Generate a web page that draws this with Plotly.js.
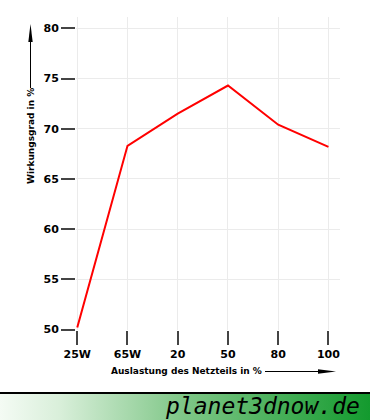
<!DOCTYPE html>
<html>
<head>
<meta charset="utf-8">
<script src="https://cdn.plot.ly/plotly-3.0.1.min.js"></script>
<style>
html,body{margin:0;padding:0;background:#fff;}
#chart{width:370px;height:420px;}
</style>
</head>
<body>
<div id="chart"></div>
<script>
// ---- data ----
const categories = ["25W", "65W", "20", "50", "80", "100"];
const efficiency = [50.2, 68.3, 71.5, 74.3, 70.4, 68.2];
const yTicks = [50, 55, 60, 65, 70, 75, 80];
const xTitle = "Auslastung des Netzteils in %";
const yTitle = "Wirkungsgrad in %";
const brand = "planet3dnow.de";

// ---- layout geometry ----
const W = 370, H = 420;
const M = {l: 76, r: 30, t: 17, b: 90};
const PW = W - M.l - M.r, PH = H - M.t - M.b;
const px = x => (x - M.l) / PW;           // pixel -> paper x
const py = y => (H - M.b - y) / PH;       // pixel -> paper y

const fontFam = "DejaVu Sans, Verdana, sans-serif";

function tri(tipX, tipY, baseX1, baseY1, baseX2, baseY2) {
  return `M ${px(tipX)} ${py(tipY)} L ${px(baseX1)} ${py(baseY1)} L ${px(baseX2)} ${py(baseY2)} Z`;
}

const gradSvg = '<svg xmlns="http://www.w3.org/2000/svg" width="370" height="26" preserveAspectRatio="none">' +
  '<defs><linearGradient id="g" x1="0" y1="0" x2="1" y2="0">' +
  '<stop offset="0" stop-color="#f4fbf4"/><stop offset="0.16" stop-color="#d9efda"/>' +
  '<stop offset="0.49" stop-color="#80c788"/>' +
  '<stop offset="1" stop-color="#139a2e"/></linearGradient></defs>' +
  '<rect width="370" height="26" fill="url(#g)"/></svg>';
const gradSrc = 'data:image/svg+xml;base64,' + btoa(gradSvg);

const trace = {
  type: 'scatter',
  mode: 'lines',
  x: categories,
  y: efficiency,
  line: {color: '#ff0000', width: 2},
  hoverinfo: 'x+y'
};

const layout = {
  width: W, height: H,
  margin: M,
  paper_bgcolor: '#ffffff',
  plot_bgcolor: '#ffffff',
  showlegend: false,
  font: {family: fontFam, size: 11, color: '#000'},
  xaxis: {
    type: 'category',
    range: [-0.025, 5.23],
    showgrid: true, gridcolor: '#ebebeb', gridwidth: 1,
    zeroline: false, showline: false,
    ticks: 'outside', ticklen: 14, tickwidth: 2, tickcolor: '#444',
    tickfont: {family: fontFam, size: 11, color: '#000', weight: 'bold'},
    fixedrange: true
  },
  yaxis: {
    range: [49.95, 81.13],
    tickvals: yTicks,
    ticktext: yTicks.map(String),
    showgrid: true, gridcolor: '#ebebeb', gridwidth: 1,
    zeroline: false, showline: false,
    ticks: 'outside', ticklen: 14, tickwidth: 2, tickcolor: '#444',
    tickfont: {family: fontFam, size: 11, color: '#000', weight: 'bold'},
    fixedrange: true
  },
  annotations: [
    {xref: 'paper', yref: 'paper', x: px(31), y: py(136), text: yTitle, textangle: -90,
     showarrow: false, xanchor: 'center', yanchor: 'middle',
     font: {family: fontFam, size: 9, color: '#000', weight: 'bold'}},
    {xref: 'paper', yref: 'paper', x: px(186), y: py(371), text: xTitle,
     showarrow: false, xanchor: 'center', yanchor: 'middle',
     font: {family: fontFam, size: 9, color: '#000', weight: 'bold'}},
    {xref: 'paper', yref: 'paper', x: px(362), y: py(406), text: '<i>' + brand + '</i>',
     showarrow: false, xanchor: 'right', yanchor: 'middle',
     font: {family: 'DejaVu Sans Mono, monospace', size: 23, color: '#000'}}
  ],
  images: [
    {source: gradSrc, xref: 'paper', yref: 'paper', x: px(0), y: py(394),
     sizex: W / PW, sizey: 26 / PH, sizing: 'stretch', xanchor: 'left', yanchor: 'top', layer: 'below'}
  ],
  shapes: [
    // banner separator
    {type: 'line', xref: 'paper', yref: 'paper', x0: px(0), x1: px(370), y0: py(393), y1: py(393),
     line: {color: '#000', width: 2}},
    // y-title arrow
    {type: 'line', xref: 'paper', yref: 'paper', x0: px(30.5), x1: px(30.5), y0: py(88), y1: py(36),
     line: {color: '#000', width: 1}},
    {type: 'path', xref: 'paper', yref: 'paper', path: tri(30.5, 24, 28.3, 42, 32.7, 42),
     fillcolor: '#000', line: {width: 0}},
    // x-title arrow
    {type: 'line', xref: 'paper', yref: 'paper', x0: px(265), x1: px(324), y0: py(371.5), y1: py(371.5),
     line: {color: '#000', width: 1}},
    {type: 'path', xref: 'paper', yref: 'paper', path: tri(336, 371.5, 318, 369.3, 318, 373.7),
     fillcolor: '#000', line: {width: 0}}
  ]
};

Plotly.newPlot('chart', [trace], layout, {displayModeBar: false, staticPlot: true});
</script>
</body>
</html>
